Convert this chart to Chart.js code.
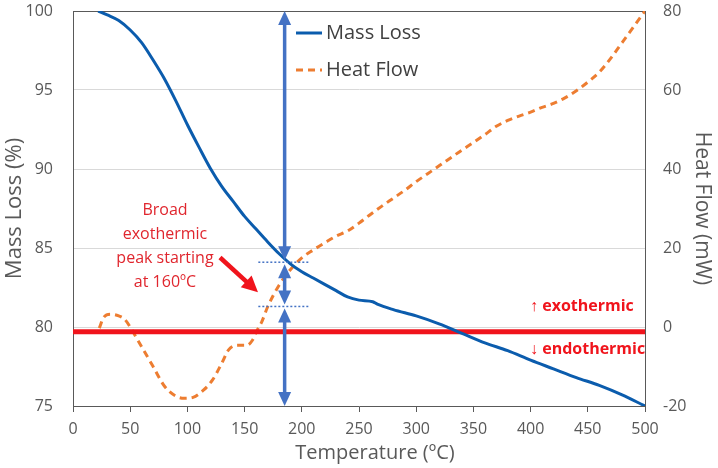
<!DOCTYPE html>
<html>
<head>
<meta charset="utf-8">
<script src="https://cdn.jsdelivr.net/npm/chart.js@4"></script>
<style>
  html, body { margin: 0; padding: 0; background: #fff; }
</style>
</head>
<body>
<canvas id="tga" width="718" height="468"></canvas>
<script>
// TGA / DSC curves
const massTemps = [22, 30, 40, 50, 60, 70, 80, 90, 100, 110, 120, 130, 140, 150, 160, 170, 180, 190, 200,
  210, 220, 230, 240, 250, 262, 266, 280, 300, 320, 340, 360, 380, 400, 420, 440, 460, 480, 500];
const massLoss = [100, 99.75, 99.4, 98.8, 98.0, 96.9, 95.7, 94.3, 92.8, 91.4, 90.05, 88.9, 87.95, 87.0, 86.2, 85.4, 84.65, 84.0, 83.5,
  83.1, 82.7, 82.3, 81.9, 81.7, 81.6, 81.45, 81.1, 80.7, 80.2, 79.6, 79.0, 78.5, 77.9, 77.35, 76.8, 76.3, 75.7, 75.0];

const heatTemps = [23, 27, 33, 40, 45, 50, 55, 60, 70, 80, 90, 97, 105, 114, 122, 130, 136, 143, 152, 157, 161, 165, 170, 180, 190, 200,
  210, 220, 230, 240, 250, 260, 270, 280, 290, 300, 310, 320, 330, 340, 350, 360, 370, 380, 390, 400,
  410, 420, 430, 440, 450, 460, 470, 480, 490, 500];
const heatFlow = [-0.3, 2.5, 3.2, 2.8, 2.0, 0, -2.5, -5, -10, -15, -17.5, -18.05, -17.8, -16, -13.4, -9.2, -5.8, -4.6, -4.6, -3.3, -0.8, 1.3, 5, 10.5, 14.5, 17.5,
  19.5, 21.3, 23, 24.3, 26.3, 28.5, 30.6, 32.6, 34.6, 36.8, 38.8, 40.8, 42.8, 44.8, 46.7, 48.7, 50.8, 52.3, 53.4, 54.4,
  55.6, 56.6, 58.0, 59.8, 62.0, 64.5, 68, 72, 76, 80];

// zero heat-flow reference line (right axis) and where it spans
const baselineLevel = -1.2;
const baselineSpan = [0, 500];

// axis ranges / ticks
const xRange = [0, 500], xStep = 50;
const massRange = [75, 100], massStep = 5;
const heatRange = [-20, 80], heatStep = 20;
const xTitle = "Temperature (ºC)";

// annotations (data coordinates)
const arrowTemp = 185;
const arrowStops = [100, 84.1, 81.3, 75];
const dotSpan = [162, 206];
const noteLines = ["Broad", "exothermic", "peak starting", "at 160ºC"];
const noteAt = [80.4, 87.4];
const redArrow = [[128.5, 84.4], [161.7, 82.2]];
const exoLabel = "↑ exothermic", endoLabel = "↓ endothermic";
const exoAt = [399.5, 5.1], endoAt = [399.5, -5.8];

const BLUE = "#0b5cad", ORANGE = "#ed7d31", RED = "#f0141c", ARROW = "#4472c4", GREY = "#595959";

Chart.defaults.font.family = "'Open Sans', sans-serif";

function pts(xs, ys) {
  return xs.map((x, i) => ({ x: x, y: ys[i] }));
}

function head(ctx, tx, ty, ang, len, half) {
  ctx.beginPath();
  ctx.moveTo(tx, ty);
  ctx.lineTo(tx - len * Math.cos(ang) + half * Math.sin(ang), ty - len * Math.sin(ang) - half * Math.cos(ang));
  ctx.lineTo(tx - len * Math.cos(ang) - half * Math.sin(ang), ty - len * Math.sin(ang) + half * Math.cos(ang));
  ctx.closePath();
  ctx.fill();
}

const extras = {
  id: "extras",
  beforeDatasetsDraw(chart) {
    const ctx = chart.ctx, a = chart.chartArea;
    ctx.save();
    ctx.strokeStyle = GREY;
    ctx.lineWidth = 1;
    ctx.beginPath();
    ctx.moveTo(a.left, a.top + 0.5);
    ctx.lineTo(a.right, a.top + 0.5);
    ctx.stroke();
    // x axis title, sits a little right of centre in the original
    ctx.fillStyle = GREY;
    ctx.font = "20px 'Open Sans', sans-serif";
    ctx.textAlign = "center";
    ctx.textBaseline = "middle";
    ctx.fillText(xTitle, (a.left + a.right) / 2 + 16, chart.height - 15);
    ctx.restore();
  },
  afterDatasetsDraw(chart) {
    const ctx = chart.ctx, a = chart.chartArea;
    const sx = chart.scales.x, sy = chart.scales.y, s2 = chart.scales.y2;
    ctx.save();

    // dotted guide lines
    ctx.strokeStyle = ARROW;
    ctx.lineWidth = 1.5;
    ctx.setLineDash([2, 2]);
    [arrowStops[1], arrowStops[2]].forEach(v => {
      const y = sy.getPixelForValue(v);
      ctx.beginPath();
      ctx.moveTo(sx.getPixelForValue(dotSpan[0]), y);
      ctx.lineTo(sx.getPixelForValue(dotSpan[1]), y);
      ctx.stroke();
    });
    ctx.setLineDash([]);

    // double arrows
    const ax = sx.getPixelForValue(arrowTemp);
    ctx.fillStyle = ARROW;
    ctx.lineWidth = 3.5;
    for (let i = 0; i < arrowStops.length - 1; i++) {
      const y0 = sy.getPixelForValue(arrowStops[i]) + (i ? 2 : 0);
      const y1 = sy.getPixelForValue(arrowStops[i + 1]) - (i < arrowStops.length - 2 ? 2 : 0);
      ctx.beginPath();
      ctx.moveTo(ax, y0 + 8);
      ctx.lineTo(ax, y1 - 8);
      ctx.stroke();
      head(ctx, ax, y0, -Math.PI / 2, 14, 6.5);
      head(ctx, ax, y1, Math.PI / 2, 14, 6.5);
    }

    // red arrow
    const rx0 = sx.getPixelForValue(redArrow[0][0]), ry0 = sy.getPixelForValue(redArrow[0][1]);
    const rx1 = sx.getPixelForValue(redArrow[1][0]), ry1 = sy.getPixelForValue(redArrow[1][1]);
    const ang = Math.atan2(ry1 - ry0, rx1 - rx0);
    ctx.strokeStyle = RED;
    ctx.fillStyle = RED;
    ctx.lineWidth = 4.5;
    ctx.beginPath();
    ctx.moveTo(rx0, ry0);
    ctx.lineTo(rx1 - 12 * Math.cos(ang), ry1 - 12 * Math.sin(ang));
    ctx.stroke();
    head(ctx, rx1, ry1, ang, 16, 8);

    // note text
    ctx.fillStyle = "#e0262e";
    ctx.font = "16px 'Open Sans', sans-serif";
    ctx.textAlign = "center";
    ctx.textBaseline = "middle";
    const nx = sx.getPixelForValue(noteAt[0]), ny = sy.getPixelForValue(noteAt[1]);
    noteLines.forEach((t, i) => ctx.fillText(t, nx, ny + i * 24));

    ctx.fillStyle = RED;
    ctx.font = "bold 16px 'Open Sans', sans-serif";
    ctx.textAlign = "left";
    ctx.fillText(exoLabel, sx.getPixelForValue(exoAt[0]), s2.getPixelForValue(exoAt[1]));
    ctx.fillText(endoLabel, sx.getPixelForValue(endoAt[0]), s2.getPixelForValue(endoAt[1]));

    // legend
    const lx = a.left + 223;
    const items = [chart.data.datasets[0], chart.data.datasets[2]];
    ctx.font = "20px 'Open Sans', sans-serif";
    ctx.fillStyle = "#404040";
    items.forEach((d, i) => {
      const y = a.top + 22 + i * 37;
      ctx.strokeStyle = d.borderColor;
      ctx.lineWidth = 3;
      ctx.setLineDash(d.borderDash || []);
      ctx.beginPath();
      ctx.moveTo(lx, y);
      ctx.lineTo(lx + 26, y);
      ctx.stroke();
      ctx.setLineDash([]);
      ctx.fillText(d.label, lx + 30, y);
    });
    ctx.restore();
  }
};

function fixY(s) {
  s.width = 73;
  s.paddingTop = 10;
  s.paddingBottom = 10;
}

new Chart(document.getElementById("tga").getContext("2d"), {
  type: "line",
  data: {
    datasets: [
      {
        label: "Mass Loss",
        data: pts(massTemps, massLoss),
        yAxisID: "y",
        borderColor: BLUE,
        borderWidth: 3,
        pointRadius: 0,
        cubicInterpolationMode: "monotone",
        order: 0
      },
      {
        label: "baseline",
        data: pts(baselineSpan, [baselineLevel, baselineLevel]),
        yAxisID: "y2",
        borderColor: RED,
        borderWidth: 5,
        pointRadius: 0,
        order: 1
      },
      {
        label: "Heat Flow",
        data: pts(heatTemps, heatFlow),
        yAxisID: "y2",
        borderColor: ORANGE,
        borderDash: [7, 5],
        borderWidth: 3,
        pointRadius: 0,
        cubicInterpolationMode: "monotone",
        order: 2
      }
    ]
  },
  options: {
    responsive: false,
    animation: false,
    layout: { padding: { top: 11, left: 0, right: 0, bottom: 0 } },
    plugins: { legend: { display: false }, tooltip: { enabled: false } },
    scales: {
      x: {
        type: "linear",
        min: xRange[0],
        max: xRange[1],
        ticks: { stepSize: xStep, color: GREY, font: { size: 16 }, padding: 8 },
        grid: { drawOnChartArea: false, tickLength: 6, color: GREY },
        border: { color: GREY },
        title: { display: false, text: xTitle },
        afterFit: s => { s.height = 62; }
      },
      y: {
        position: "left",
        min: massRange[0],
        max: massRange[1],
        ticks: { stepSize: massStep, color: GREY, font: { size: 16 }, padding: 20 },
        grid: { color: "#d9d9d9", drawTicks: false },
        border: { color: GREY },
        title: { display: true, text: "Mass Loss (%)", color: GREY, font: { size: 22 }, padding: { top: 2, bottom: 0 } },
        afterFit: fixY
      },
      y2: {
        position: "right",
        min: heatRange[0],
        max: heatRange[1],
        ticks: { stepSize: heatStep, color: GREY, font: { size: 16 }, padding: 18 },
        grid: { display: false, drawTicks: false },
        border: { color: GREY },
        title: { display: true, text: "Heat Flow (mW)", color: GREY, font: { size: 21 }, padding: { top: 3, bottom: 0 } },
        afterFit: fixY
      }
    }
  },
  plugins: [extras]
});
</script>
</body>
</html>
